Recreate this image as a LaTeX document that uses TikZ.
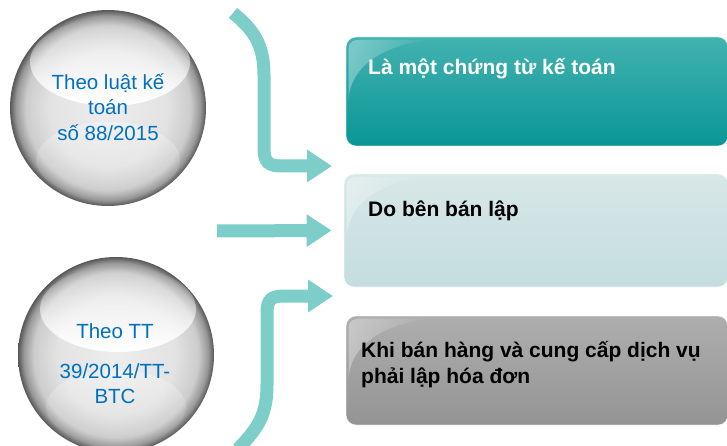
\documentclass[tikz,border=0pt]{standalone}
\usepackage{fontspec}
\setmainfont{Liberation Sans}
\usetikzlibrary{arrows.meta,fadings}
\definecolor{ball_text}{RGB}{0,112,192}
\definecolor{arrow_teal}{RGB}{125,205,200}
\definecolor{teal_top}{RGB}{66,178,176}
\definecolor{teal_bot}{RGB}{10,150,150}
\definecolor{ice_top}{RGB}{216,231,231}
\definecolor{ice_bot}{RGB}{196,221,223}
\definecolor{grey_top}{RGB}{174,174,174}
\definecolor{grey_bot}{RGB}{148,148,148}
\pgfdeclareradialshading{sphere}{\pgfpointorigin}{color(0bp)=(black!7);
  color(15bp)=(black!11); color(21bp)=(black!20); color(23.5bp)=(black!40);
  color(25bp)=(black!66); color(50bp)=(black!66)}
\tikzstyle{ball}=[circle,shading=sphere,minimum size=196pt,inner sep=0pt]
\tikzstyle{gloss}=[fill=white,path fading=north]
\tikzstyle{glow}=[fill=white,fill opacity=0.3,path fading=south]
\tikzstyle{balltext}=[text=ball_text,font=\fontsize{20.5}{25.5}\selectfont,
  align=center,inner sep=0pt]
\tikzstyle{card}=[rectangle,rounded corners=10pt,draw=white,draw opacity=0.6,
  line width=0.8pt,inner sep=0pt]
\tikzstyle{sheen}=[fill=white,fill opacity=0.35,path fading=east]
\tikzstyle{cardtext}=[font=\bfseries\fontsize{21}{26}\selectfont,align=left,
  inner sep=0pt,anchor=base west]
\tikzstyle{flow}=[draw=arrow_teal,line width=13pt,
  -{Triangle[length=25pt,width=31pt]}]

\begin{document}
\begin{tikzpicture}[x=1pt,y=-1pt]
    \useasboundingbox (0,0) rectangle (727,446);
    % the two balls
    \node [style=ball] (law) at (108,108) {};
    \fill [style=gloss] (110,62) ellipse (80 and 44);
    \fill [style=glow] (108,160) ellipse (72 and 38);
    \node [style=ball] (circular) at (116,355) {};
    \fill [style=gloss] (118,309) ellipse (78 and 43);
    \fill [style=glow] (116,407) ellipse (70 and 37);
    \node [style=balltext] (lawtext) at (108,107) {Theo luật kế\\toán\\số 88/2015};
    \node [style=balltext] (circtext) at (115,364) {Theo TT\\[14pt]39/2014/TT-\\BTC};
    % the three cards
    \node [style=card,top color=teal_top,bottom color=teal_bot,
      minimum width=382pt,minimum height=109pt] (fact) at (537,91.5) {};
    \node [style=card,top color=ice_top,bottom color=ice_bot,
      minimum width=384pt,minimum height=113pt] (ice) at (536,230.5) {};
    \node [style=card,top color=grey_top,bottom color=grey_bot,
      minimum width=382pt,minimum height=109pt] (grey) at (537,370.5) {};
    \foreach \c in {fact,ice,grey}
      \fill [style=sheen] (\c.north west) ++(3,12) .. controls +(0,-7) and +(-6,0) .. ++(12,-9)
        -- ++(70,0) .. controls +(-45,5) and +(2,-35) .. ++(-82,60) -- cycle;
    \node [style=cardtext,text=white] (facttext) at (368,75) {Là một chứng từ kế toán};
    \node [style=cardtext] (icetext) at (368,217) {Do bên bán lập};
    \node [style=cardtext] (greytext) at (361,383) {Khi bán hàng và cung cấp dịch vụ\\phải lập hóa đơn};
    % arrows
    \coordinate (top_end) at (233,13);
    \coordinate (top_tip) at (332,166);
    \coordinate (mid_end) at (217,231);
    \coordinate (bot_end) at (238,449);
    \coordinate (bot_tip) at (333,296);
    \draw [style=flow] (top_end) .. controls (254,30) and (264,45) .. (264,75)
      -- (264,148) .. controls (264,162) and (268,166) .. (282,166) -- (top_tip);
    \draw [style=flow] (mid_end) -- ([xshift=-12pt]ice.west);
    \draw [style=flow] (bot_end) .. controls (258,428) and (267,415) .. (267,385)
      -- (267,314) .. controls (267,299) and (271,296) .. (285,296) -- (bot_tip);
  \end{tikzpicture}
\end{document}
